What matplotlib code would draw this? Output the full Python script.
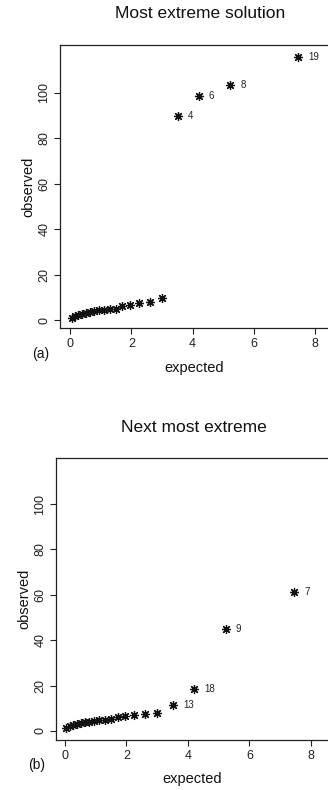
import matplotlib
matplotlib.use("Agg")
import matplotlib.pyplot as plt

plt.rcParams['font.family'] = ['Liberation Sans', 'DejaVu Sans']

# Expected values (shared by both panels)
expected = [0.05, 0.16, 0.27, 0.39, 0.51, 0.64, 0.79, 0.94, 1.11, 1.29,
            1.49, 1.71, 1.96, 2.25, 2.60, 3.00, 3.52, 4.20, 5.23, 7.45]

# Panel (a): most extreme solution
observed_a = [1.0, 1.7, 2.3, 2.8, 3.3, 3.7, 4.1, 4.4, 4.6, 4.8,
              5.0, 6.0, 6.5, 7.6, 8.0, 9.5, 89.6, 98.4, 103.2, 115.8]
labels_a = {16: "4", 17: "6", 18: "8", 19: "19"}

# Panel (b): next most extreme
observed_b = [1.2, 2.0, 2.5, 3.0, 3.4, 3.8, 4.1, 4.4, 4.7, 4.9,
              5.2, 6.0, 6.6, 7.0, 7.5, 7.9, 11.5, 18.7, 44.9, 61.2]
labels_b = {16: "13", 17: "18", 18: "9", 19: "7"}

titles = ["Most extreme solution", "Next most extreme"]
panel_tags = ["(a)", "(b)"]
xticks = [0, 2, 4, 6, 8]
yticks = [0, 20, 40, 60, 80, 100]

W, H = 328, 790
fig = plt.figure(figsize=(W / 100, H / 100), dpi=100)


def fx(px):
    return px / W


def fy(py):
    return 1 - py / H


# axes boxes in pixel coords: left, top, right, bottom
boxes = [(60, 45, 330, 328), (56, 458, 330, 740)]
xlims = [(-0.33, 8.49), (-0.29, 8.62)]
ylims = [(-3.5, 121.0), (-4.0, 120.3)]
title_y = [14, 427]
title_x = [200, 194]
xlabel_y = [368, 779]
tag_pos = [(41, 354), (37, 765)]
ylabel_x = [28, 24]

data = [(observed_a, labels_a), (observed_b, labels_b)]

for i in range(2):
    l, t, r, b = boxes[i]
    ax = fig.add_axes([fx(l), fy(b), fx(r) - fx(l), (b - t) / H])
    obs, labs = data[i]
    ax.plot(expected, obs, linestyle='none', marker=(8, 2, 0),
            markersize=6.5, markeredgewidth=0.9, color='#111111')
    for k, txt in labs.items():
        ax.annotate(txt, (expected[k], obs[k]), xytext=(10, 0),
                    textcoords='offset pixels', ha='left', va='center',
                    fontsize=7, color='#222222')
    ax.set_xlim(*xlims[i])
    ax.set_ylim(*ylims[i])
    ax.set_xticks(xticks)
    ax.set_yticks(yticks)
    ax.tick_params(direction='out', length=4, width=0.8, labelsize=9,
                   color='#222222', labelcolor='#222222', pad=3)
    for lab in ax.get_yticklabels():
        lab.set_rotation(90)
        lab.set_va('center')
    for sp in ax.spines.values():
        sp.set_linewidth(0.9)
        sp.set_color('#222222')
    fig.text(fx(title_x[i]), fy(title_y[i]), titles[i], ha='center',
             va='center', fontsize=12.5, color='#111111')
    fig.text(fx((l + 329) / 2), fy(xlabel_y[i]), "expected", ha='center',
             va='center', fontsize=10.5, color='#111111')
    fig.text(fx(ylabel_x[i]), fy((t + b) / 2), "observed", ha='center',
             va='center', rotation=90, fontsize=10.5, color='#111111')
    fig.text(fx(tag_pos[i][0]), fy(tag_pos[i][1]), panel_tags[i],
             ha='center', va='center', fontsize=10, color='#111111')

fig.savefig("out.png", dpi=100)
